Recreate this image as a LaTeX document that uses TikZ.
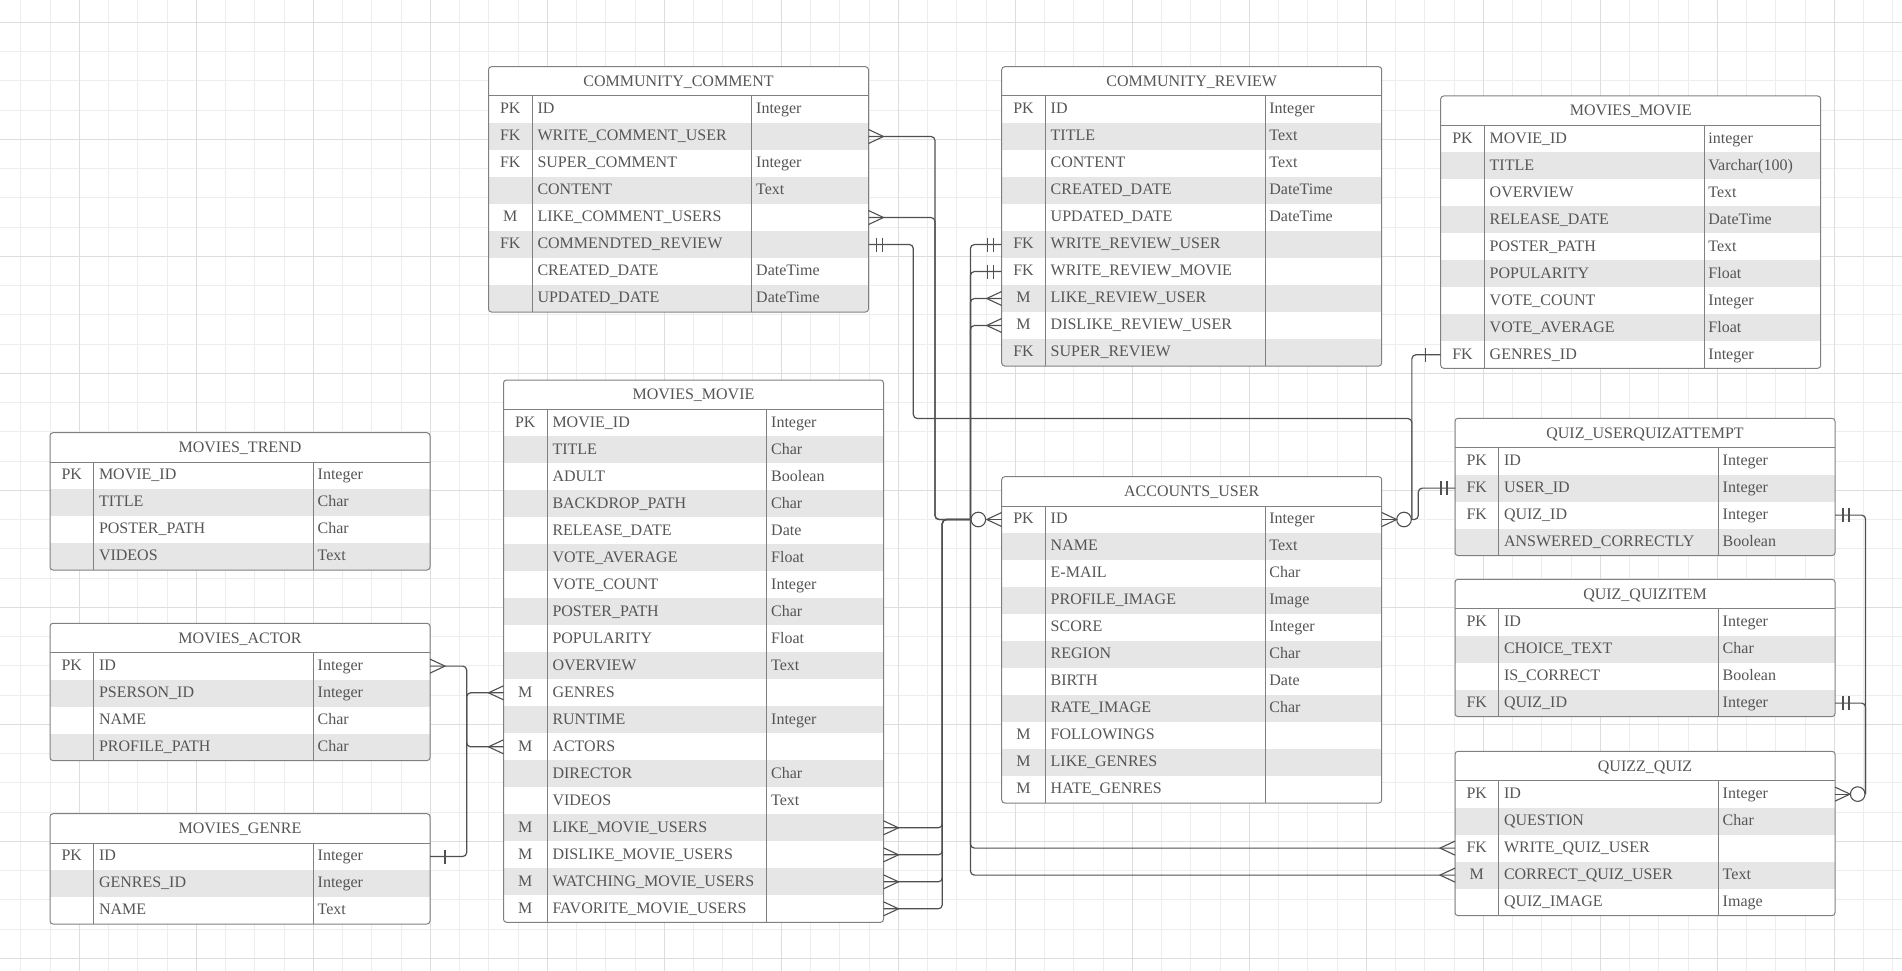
\documentclass[tikz,border=0pt]{standalone}
\usepackage{fontspec}
\setmainfont{Liberation Serif}
\definecolor{gridminor}{HTML}{EDEDED}
\definecolor{gridmajor}{HTML}{DDDDDD}
\definecolor{rowgrey}{HTML}{E6E6E6}
\definecolor{tline}{HTML}{808080}
\definecolor{txt}{HTML}{555555}
\definecolor{cline}{HTML}{505050}
\tikzset{
  tborder/.style={draw=tline, line width=1pt},
  conn/.style={draw=cline, line width=1.2pt, rounded corners=4pt},
  sym/.style={draw=cline, line width=1.1pt},
  cell/.style={inner sep=0pt, text=txt, font=\fontsize{16}{19}\selectfont},
  endcircle/.style={circle, draw=cline, line width=1.1pt, fill=white, minimum size=14.6pt, inner sep=0pt},
}
% table: #1 name, #2 x, #3 y, #4 title, #5 rows count, #6 rows
\newcommand\erd[6]{%
  \pgfmathsetmacro\erdH{29.3+27*#5}%
  \begin{scope}
    \clip[rounded corners=3pt] (#2,#3) rectangle ++(380,\erdH);
    \fill[white] (#2,#3) rectangle ++(380,\erdH);
    \foreach \ka/\na/\ta [count=\i] in {#6}{%
      \ifodd\i\else
        \fill[rowgrey] (#2,{#3+29.3+27*(\i-1)}) rectangle ++(380,27);
      \fi}
  \end{scope}
  \draw[tborder, rounded corners=3pt] (#2,#3) rectangle ++(380,\erdH);
  \draw[tborder] (#2,#3+29.3) -- ++(380,0);
  \draw[tborder] (#2+43.7,#3+29.3) -- ++(0,27*#5);
  \draw[tborder] (#2+263.3,#3+29.3) -- ++(0,27*#5);
  \node[cell, anchor=base] (#1-title) at (#2+190,#3+19.8) {#4};
  \foreach \ka/\na/\ta [count=\i] in {#6}{%
    \pgfmathsetmacro\erdrt{#3+29.3+27*(\i-1)}%
    \node[cell, anchor=base] (#1-k\i) at (#2+21.8,\erdrt+17.8) {\ka};
    \node[cell, anchor=base west] (#1-n\i) at (#2+48.8,\erdrt+17.8) {\na};
    \node[cell, anchor=base west] (#1-t\i) at (#2+267.5,\erdrt+17.8) {\ta};
    \coordinate (#1-L-\i) at (#2,\erdrt+13.5);
    \coordinate (#1-R-\i) at (#2+380,\erdrt+13.5);
  }%
}
\newcommand\crowR[1]{\draw[sym,shift={(#1)}] (0,-7) -- (15,0) -- (0,7);}
\newcommand\crowL[1]{\draw[sym,shift={(#1)}] (0,-7) -- (-15,0) -- (0,7);}
\newcommand\twoR[1]{\draw[sym,shift={(#1)}] (8,-7) -- (8,7) (14,-7) -- (14,7);}
\newcommand\twoL[1]{\draw[sym,shift={(#1)}] (-8,-7) -- (-8,7) (-14,-7) -- (-14,7);}
\newcommand\oneR[1]{\draw[sym,shift={(#1)}] (15,-7) -- (15,7);}
\newcommand\oneL[1]{\draw[sym,shift={(#1)}] (-15,-7) -- (-15,7);}
\begin{document}
\begin{tikzpicture}[x=1pt,y=-1pt]
\useasboundingbox (0,0) rectangle (1902,971);
\fill[white] (0,0) rectangle (1902,971);
% grid
\foreach \k in {0,...,64} \draw[gridminor, line width=1pt] ({20.8+29.25*\k},0) -- ++(0,971);
\foreach \k in {1,...,33} \draw[gridminor, line width=1pt] (0,{-6.95+29.25*\k}) -- ++(1902,0);
\foreach \k in {0,...,15} \draw[gridmajor, line width=1pt] ({79.3+117*\k},0) -- ++(0,971);
\foreach \k in {0,...,8} \draw[gridmajor, line width=1pt] (0,{22.3+117*\k}) -- ++(1902,0);

% tables
\erd{cc}{488.5}{66.7}{COMMUNITY\_COMMENT}{8}{PK/ID/Integer, FK/WRITE\_COMMENT\_USER/{}, FK/SUPER\_COMMENT/Integer, {}/CONTENT/Text, M/LIKE\_COMMENT\_USERS/{}, FK/COMMENDTED\_REVIEW/{}, {}/CREATED\_DATE/DateTime, {}/UPDATED\_DATE/DateTime}
\erd{cr}{1001.7}{66.7}{COMMUNITY\_REVIEW}{10}{PK/ID/Integer, {}/TITLE/Text, {}/CONTENT/Text, {}/CREATED\_DATE/DateTime, {}/UPDATED\_DATE/DateTime, FK/WRITE\_REVIEW\_USER/{}, FK/WRITE\_REVIEW\_MOVIE/{}, M/LIKE\_REVIEW\_USER/{}, M/DISLIKE\_REVIEW\_USER/{}, FK/SUPER\_REVIEW/{}}
\erd{mmr}{1440.7}{96}{MOVIES\_MOVIE}{9}{PK/MOVIE\_ID/integer, {}/TITLE/{Varchar(100)}, {}/OVERVIEW/Text, {}/RELEASE\_DATE/DateTime, {}/POSTER\_PATH/Text, {}/POPULARITY/Float, {}/VOTE\_COUNT/Integer, {}/VOTE\_AVERAGE/Float, FK/GENRES\_ID/Integer}
\erd{mt}{50}{432.7}{MOVIES\_TREND}{4}{PK/MOVIE\_ID/Integer, {}/TITLE/Char, {}/POSTER\_PATH/Char, {}/VIDEOS/Text}
\erd{ma}{50}{623.3}{MOVIES\_ACTOR}{4}{PK/ID/Integer, {}/PSERSON\_ID/Integer, {}/NAME/Char, {}/PROFILE\_PATH/Char}
\erd{mg}{50}{813.7}{MOVIES\_GENRE}{3}{PK/ID/Integer, {}/GENRES\_ID/Integer, {}/NAME/Text}
\erd{mm}{503.5}{380}{MOVIES\_MOVIE}{19}{PK/MOVIE\_ID/Integer, {}/TITLE/Char, {}/ADULT/Boolean, {}/BACKDROP\_PATH/Char, {}/RELEASE\_DATE/Date, {}/VOTE\_AVERAGE/Float, {}/VOTE\_COUNT/Integer, {}/POSTER\_PATH/Char, {}/POPULARITY/Float, {}/OVERVIEW/Text, M/GENRES/{}, {}/RUNTIME/Integer, M/ACTORS/{}, {}/DIRECTOR/Char, {}/VIDEOS/Text, M/LIKE\_MOVIE\_USERS/{}, M/DISLIKE\_MOVIE\_USERS/{}, M/WATCHING\_MOVIE\_USERS/{}, M/FAVORITE\_MOVIE\_USERS/{}}
\erd{au}{1001.7}{476.7}{ACCOUNTS\_USER}{11}{PK/ID/Integer, {}/NAME/Text, {}/E-MAIL/Char, {}/PROFILE\_IMAGE/Image, {}/SCORE/Integer, {}/REGION/Char, {}/BIRTH/Date, {}/RATE\_IMAGE/Char, M/FOLLOWINGS/{}, M/LIKE\_GENRES/{}, M/HATE\_GENRES/{}}
\erd{qa}{1455}{418.3}{QUIZ\_USERQUIZATTEMPT}{4}{PK/ID/Integer, FK/USER\_ID/Integer, FK/QUIZ\_ID/Integer, {}/ANSWERED\_CORRECTLY/Boolean}
\erd{qi}{1455}{579.3}{QUIZ\_QUIZITEM}{4}{PK/ID/Integer, {}/CHOICE\_TEXT/Char, {}/IS\_CORRECT/Boolean, FK/QUIZ\_ID/Integer}
\erd{qq}{1455}{751.3}{QUIZZ\_QUIZ}{5}{PK/ID/Integer, {}/QUESTION/Char, FK/WRITE\_QUIZ\_USER/{}, M/CORRECT\_QUIZ\_USER/Text, {}/QUIZ\_IMAGE/Image}

% routing coordinates
\coordinate (vA) at (935,0);
\coordinate (vB) at (942.3,0);
\coordinate (vC) at (913.3,0);
\coordinate (hC) at (0,418.5);
\coordinate (vD) at (1418.3,0);
\coordinate (vE) at (466.7,0);

% end circles
\node[endcircle] (auCL) at (978.3,519.5) {};
\node[endcircle] (auCR) at (1404,519.5) {};
\node[endcircle] (qqC) at (1857.7,794.1) {};

% connectors to ACCOUNTS_USER (left)
\draw[conn] (cc-R-2) -- (cc-R-2 -| vA) -- (vA |- auCL.west) -- (auCL.west);
\draw[conn] (cc-R-5) -- (cc-R-5 -| vA) -- (vA |- auCL.west) -- (auCL.west);
\draw[conn] (cr-L-6) -| (auCL.west);
\draw[conn] (cr-L-7) -| (auCL.west);
\draw[conn] (cr-L-8) -| (auCL.west);
\draw[conn] (cr-L-9) -| (auCL.west);
\draw[conn] (qq-L-3) -| (auCL.west);
\draw[conn] (qq-L-4) -| (auCL.west);
\foreach \r in {16,17,18,19}
  \draw[conn] (mm-R-\r) -- (mm-R-\r -| vB) -- (vB |- auCL.west) -- (auCL.west);
\draw[sym] (auCL.east) -- (au-L-1);
\crowL{au-L-1}

% connectors to ACCOUNTS_USER (right)
\draw[conn] (mmr-L-9) -| (auCR.east);
\draw[conn] (cc-R-6) -- (cc-R-6 -| vC) -- (vC |- hC) -- (hC -| auCR.east) -- (auCR.east);
\draw[conn] (qa-L-2) -- (qa-L-2 -| vD) -- (vD |- auCR.east) -- (auCR.east);
\draw[sym] (au-R-1) -- (auCR.west);
\crowR{au-R-1}

% connectors to QUIZZ_QUIZ
\draw[conn] (qa-R-3) -| (qqC.east);
\draw[conn] (qi-R-4) -| (qqC.east);
\draw[sym] (qq-R-1) -- (qqC.west);
\crowR{qq-R-1}

% actor / genre to movie
\draw[conn] (ma-R-1) -- (ma-R-1 -| vE) -- (vE |- mm-L-13) -- (mm-L-13);
\draw[conn] (mg-R-1) -- (mg-R-1 -| vE) -- (vE |- mm-L-11) -- (mm-L-11);

% end symbols
\crowR{cc-R-2}
\crowR{cc-R-5}
\twoR{cc-R-6}
\twoL{cr-L-6}
\twoL{cr-L-7}
\crowL{cr-L-8}
\crowL{cr-L-9}
\crowL{qq-L-3}
\crowL{qq-L-4}
\foreach \r in {16,17,18,19} {\crowR{mm-R-\r}}
\oneL{mmr-L-9}
\twoL{qa-L-2}
\twoR{qa-R-3}
\twoR{qi-R-4}
\crowR{ma-R-1}
\oneR{mg-R-1}
\crowL{mm-L-11}
\crowL{mm-L-13}
\end{tikzpicture}
\end{document}
